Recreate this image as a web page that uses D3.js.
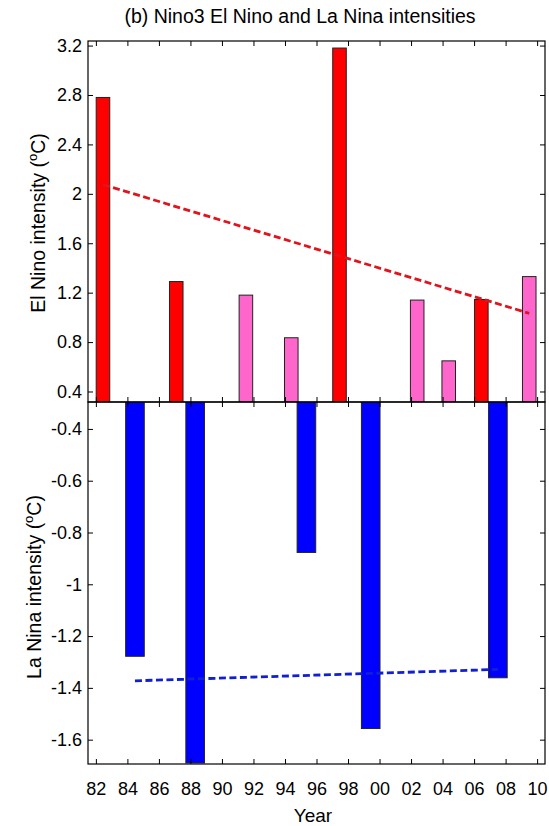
<!DOCTYPE html>
<html>
<head>
<meta charset="utf-8">
<script src="https://cdn.jsdelivr.net/npm/d3@7"></script>
<style>
  body { margin: 0; background: #fff; }
  text { font-family: "Liberation Sans", Arial, sans-serif; fill: #000; }
</style>
</head>
<body>
<svg id="chart" width="549" height="826"></svg>
<script>
// El Nino events: year position, intensity and type (EP = eastern Pacific, CP = central Pacific)
const elNinoYears  = [1982.45, 1987.1, 1991.52, 1994.4, 1997.46, 2002.39, 2004.39, 2006.46, 2009.5];
const elNinoValues = [2.78, 1.29, 1.18, 0.835, 3.18, 1.14, 0.648, 1.145, 1.33];
const elNinoTypes  = ["EP", "EP", "CP", "CP", "EP", "CP", "CP", "EP", "CP"];

// La Nina events
const laNinaYears  = [1984.48, 1988.3, 1995.36, 1999.44, 2007.51];
const laNinaValues = [-1.278, -1.69, -0.877, -1.557, -1.361];

// Axis ticks
const yearTicks  = [1982, 1984, 1986, 1988, 1990, 1992, 1994, 1996, 1998, 2000, 2002, 2004, 2006, 2008, 2010];
const yearLabels = ["82", "84", "86", "88", "90", "92", "94", "96", "98", "00", "02", "04", "06", "08", "10"];
const elTicks = [0.4, 0.8, 1.2, 1.6, 2, 2.4, 2.8, 3.2];
const laTicks = [-1.6, -1.4, -1.2, -1, -0.8, -0.6, -0.4];

const typeColor = { EP: "#ff0000", CP: "#ff66cc" };

const svg = d3.select("#chart");
const left = 88, right = 545;
const topY = 41, midY = 402, botY = 764;

const x = d3.scaleLinear().domain([1981.5, 2010.5]).range([left, right]);
const yEl = d3.scaleLinear().domain([0.315, 3.237]).range([midY, topY]);
const yLa = d3.scaleLinear().domain([-1.694, -0.296]).range([botY, midY]);

const elBarWidth = 0.86;  // years
const laBarWidth = 1.18;

// least-squares trend line across the event centres
function trend(xs, ys) {
  const mx = d3.mean(xs), my = d3.mean(ys);
  const sxy = d3.sum(xs, (v, i) => (v - mx) * (ys[i] - my));
  const sxx = d3.sum(xs, v => (v - mx) * (v - mx));
  const b = sxy / sxx;
  const x0 = d3.min(xs), x1 = d3.max(xs);
  return [[x0, my + b * (x0 - mx)], [x1, my + b * (x1 - mx)]];
}

const defs = svg.append("defs");
defs.append("clipPath").attr("id", "clipTop")
  .append("rect").attr("x", left).attr("y", topY).attr("width", right - left).attr("height", midY - topY);
defs.append("clipPath").attr("id", "clipBot")
  .append("rect").attr("x", left).attr("y", midY).attr("width", right - left).attr("height", botY - midY);

// ---------- Upper panel: El Nino ----------
const gTop = svg.append("g");
gTop.append("g").attr("clip-path", "url(#clipTop)")
  .selectAll("rect").data(elNinoYears).join("rect")
  .attr("x", d => x(d - elBarWidth / 2))
  .attr("width", d => x(d + elBarWidth / 2) - x(d - elBarWidth / 2))
  .attr("y", (d, i) => yEl(elNinoValues[i]))
  .attr("height", (d, i) => midY - yEl(elNinoValues[i]))
  .attr("fill", (d, i) => typeColor[elNinoTypes[i]])
  .attr("stroke", "#222").attr("stroke-width", 1);

const elTrend = trend(elNinoYears, elNinoValues);
gTop.append("line")
  .attr("x1", x(elTrend[0][0])).attr("y1", yEl(elTrend[0][1]))
  .attr("x2", x(elTrend[1][0])).attr("y2", yEl(elTrend[1][1]))
  .attr("stroke", "#e0141c").attr("stroke-width", 2.8).attr("stroke-dasharray", "7,3.5");

// ---------- Lower panel: La Nina ----------
const gBot = svg.append("g");
gBot.append("g").attr("clip-path", "url(#clipBot)")
  .selectAll("rect").data(laNinaYears).join("rect")
  .attr("x", d => x(d - laBarWidth / 2))
  .attr("width", d => x(d + laBarWidth / 2) - x(d - laBarWidth / 2))
  .attr("y", midY)
  .attr("height", (d, i) => yLa(laNinaValues[i]) - midY)
  .attr("fill", "#0000ff")
  .attr("stroke", "#222").attr("stroke-width", 1);

const laTrend = trend(laNinaYears, laNinaValues);
gBot.append("line")
  .attr("x1", x(laTrend[0][0])).attr("y1", yLa(laTrend[0][1]))
  .attr("x2", x(laTrend[1][0])).attr("y2", yLa(laTrend[1][1]))
  .attr("stroke", "#1020d0").attr("stroke-width", 2.8).attr("stroke-dasharray", "7,3.5");

// ---------- Axes and frames ----------
const tick = 5;
function xAxes(y0, y1, withLabels) {
  const b = svg.append("g").attr("transform", `translate(0,${y1})`)
    .call(d3.axisBottom(x).tickValues(yearTicks).tickSizeInner(-tick).tickSizeOuter(0)
      .tickPadding(18).tickFormat((d, i) => withLabels ? yearLabels[i] : ""));
  const t = svg.append("g").attr("transform", `translate(0,${y0})`)
    .call(d3.axisTop(x).tickValues(yearTicks).tickSizeInner(-tick).tickSizeOuter(0).tickFormat(""));
  [b, t].forEach(g => {
    g.select(".domain").remove();
    g.selectAll("line").attr("stroke", "#000");
    g.selectAll("text").attr("font-size", 18).attr("font-family", "Liberation Sans, Arial, sans-serif");
  });
}
function yAxes(scale, ticks, fmt) {
  const l = svg.append("g").attr("transform", `translate(${left},0)`)
    .call(d3.axisLeft(scale).tickValues(ticks).tickSizeInner(-tick).tickSizeOuter(0)
      .tickPadding(6).tickFormat(fmt));
  const r = svg.append("g").attr("transform", `translate(${right},0)`)
    .call(d3.axisRight(scale).tickValues(ticks).tickSizeInner(-tick).tickSizeOuter(0).tickFormat(""));
  [l, r].forEach(g => {
    g.select(".domain").remove();
    g.selectAll("line").attr("stroke", "#000");
    g.selectAll("text").attr("font-size", 18).attr("font-family", "Liberation Sans, Arial, sans-serif");
  });
}
xAxes(topY, midY, false);
xAxes(midY, botY, true);
yAxes(yEl, elTicks, d => String(d));
yAxes(yLa, laTicks, d => String(d));

svg.append("rect").attr("x", left).attr("y", topY).attr("width", right - left).attr("height", midY - topY)
  .attr("fill", "none").attr("stroke", "#000").attr("stroke-width", 1.2);
svg.append("rect").attr("x", left).attr("y", midY).attr("width", right - left).attr("height", botY - midY)
  .attr("fill", "none").attr("stroke", "#000").attr("stroke-width", 1.2);

// ---------- Titles and labels ----------
svg.append("text").attr("x", 300).attr("y", 23).attr("text-anchor", "middle")
  .attr("font-size", 19.5).text("(b) Nino3 El Nino and La Nina intensities");

svg.append("text").attr("x", 313).attr("y", 822).attr("text-anchor", "middle")
  .attr("font-size", 19).text("Year");

function yLabel(xPos, yPos, name) {
  const t = svg.append("text")
    .attr("transform", `translate(${xPos},${yPos}) rotate(-90)`)
    .attr("text-anchor", "middle").attr("font-size", 19.5);
  t.append("tspan").text(name + " intensity (");
  t.append("tspan").attr("font-size", 13).attr("dy", -8).text("o");
  t.append("tspan").attr("dy", 8).text("C)");
}
yLabel(45, 223, "El Nino");
yLabel(41, 587, "La Nina");
</script>
</body>
</html>
